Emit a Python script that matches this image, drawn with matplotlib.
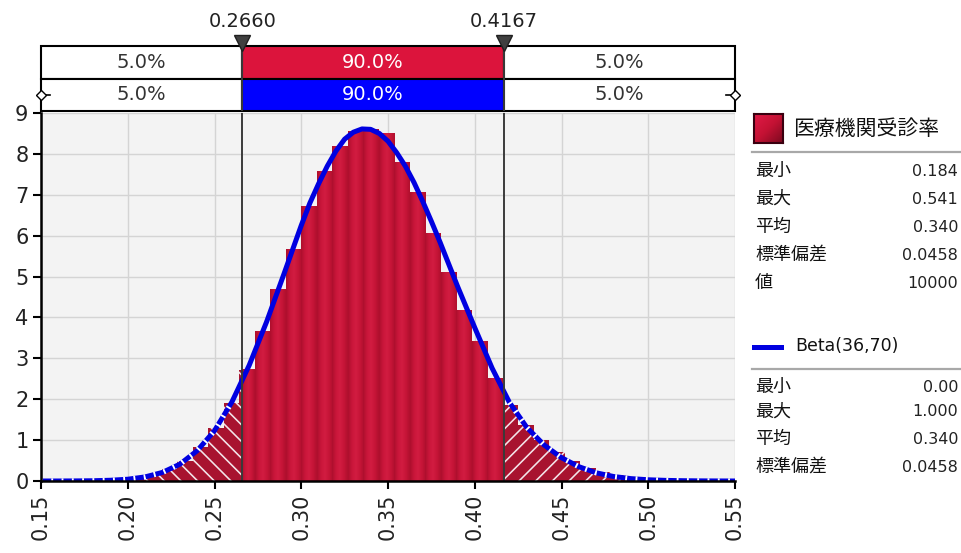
import numpy as np
import matplotlib
matplotlib.use("Agg")
import matplotlib.pyplot as plt
from matplotlib.patches import Rectangle
from matplotlib.lines import Line2D
from matplotlib.colors import LinearSegmentedColormap

plt.rcParams['font.family'] = ['DejaVu Sans', 'Noto Sans CJK JP']
plt.rcParams['hatch.linewidth'] = 1.15

# ---------------- data ----------------
hist_min, hist_max, n_bins = 0.184, 0.541, 40
hist_heights = [0.02, 0.04, 0.08, 0.15, 0.30, 0.50, 0.83, 1.30, 1.90, 2.72,
                3.65, 4.68, 5.66, 6.72, 7.57, 8.19, 8.55, 8.60, 8.50, 7.78,
                7.05, 6.06, 5.10, 4.18, 3.42, 2.50, 1.85, 1.38, 1.00, 0.72,
                0.50, 0.33, 0.22, 0.14, 0.09, 0.06, 0.03, 0.02, 0.01, 0.01]

curve_x = [0.15, 0.16, 0.17, 0.18, 0.19, 0.20, 0.21, 0.22, 0.23, 0.24, 0.25, 0.26,
           0.27, 0.28, 0.29, 0.30, 0.305, 0.31, 0.315, 0.32, 0.325, 0.33, 0.335,
           0.34, 0.345, 0.35, 0.355, 0.36, 0.365, 0.37, 0.375, 0.38, 0.39, 0.40,
           0.41, 0.42, 0.43, 0.44, 0.45, 0.46, 0.47, 0.48, 0.49, 0.50, 0.51, 0.52,
           0.53, 0.54, 0.55]
curve_y = [0.0, 0.0, 0.002, 0.006, 0.018, 0.043, 0.10, 0.21, 0.41, 0.74, 1.23, 1.93,
           2.83, 3.89, 5.06, 6.25, 6.80, 7.27, 7.70, 8.07, 8.36, 8.53, 8.61,
           8.60, 8.50, 8.31, 8.03, 7.70, 7.30, 6.84, 6.35, 5.84, 4.77, 3.75,
           2.76, 1.92, 1.31, 0.88, 0.57, 0.35, 0.20, 0.11, 0.058, 0.030, 0.015, 0.007,
           0.003, 0.001, 0.0]

left_cut, right_cut = 0.2660, 0.4167
pct_left, pct_mid, pct_right = "5.0%", "90.0%", "5.0%"

x_ticks = [0.15, 0.20, 0.25, 0.30, 0.35, 0.40, 0.45, 0.50, 0.55]
x_tick_labels = ["0.15", "0.20", "0.25", "0.30", "0.35", "0.40", "0.45", "0.50", "0.55"]
y_ticks = [0, 1, 2, 3, 4, 5, 6, 7, 8, 9]

series_name = "医療機関受診率"
fit_name = "Beta(36,70)"
stat_labels_1 = ["最小", "最大", "平均", "標準偏差", "値"]
stat_values_1 = ["0.184", "0.541", "0.340", "0.0458", "10000"]
stat_labels_2 = ["最小", "最大", "平均", "標準偏差"]
stat_values_2 = ["0.00", "1.000", "0.340", "0.0458"]

# ---------------- figure ----------------
W, H = 961, 553
fig = plt.figure(figsize=(W / 100, H / 100), dpi=100)
fig.patch.set_facecolor('white')

def fx(x):
    return x / W

def fy(y):
    return 1 - y / H

ax = fig.add_axes([fx(41), fy(481), 694 / W, 368 / H])
ax.set_facecolor('#f3f3f3')
ax.set_xlim(0.15, 0.55)
ax.set_ylim(0, 9)
ax.grid(True, color='#d4d4d4', lw=1.0)
ax.set_axisbelow(True)
for s in ['top', 'right']:
    ax.spines[s].set_visible(False)
for s in ['left', 'bottom']:
    ax.spines[s].set_linewidth(1.8)
    ax.spines[s].set_color('black')
    ax.spines[s].set_zorder(6)
ax.set_xticks(x_ticks)
ax.set_xticklabels(x_tick_labels, rotation=90, fontsize=15, color='#222222')
ax.set_yticks(y_ticks)
ax.set_yticklabels([str(v) for v in y_ticks], fontsize=15, color='#222222')
ax.tick_params(direction='out', length=6, width=1.5, pad=3)

bar_cmap = LinearSegmentedColormap.from_list(
    'bar', ['#ad0f2d', '#c9163a', '#d21c41', '#c71538', '#b0102e'])
grad = np.linspace(0, 1, 48).reshape(1, -1)

edges = np.linspace(hist_min, hist_max, n_bins + 1)
for k, h in enumerate(hist_heights):
    lo, hi = edges[k], edges[k + 1]
    if lo < left_cut:
        x1 = min(hi, left_cut)
        ax.add_patch(Rectangle((lo, 0), x1 - lo, h, facecolor='#a8132f',
                               edgecolor='#f4e6ea', linewidth=0, hatch='\\\\', zorder=2))
    a0, a1 = max(lo, left_cut), min(hi, right_cut)
    if a1 > a0:
        ax.imshow(grad, cmap=bar_cmap, extent=[a0, a1, 0, h], aspect='auto',
                  interpolation='bilinear', zorder=2)
    if hi > right_cut:
        x0 = max(lo, right_cut)
        ax.add_patch(Rectangle((x0, 0), hi - x0, h, facecolor='#a8132f',
                               edgecolor='#f4e6ea', linewidth=0, hatch='//', zorder=2))
ax.set_xlim(0.15, 0.55)
ax.set_ylim(0, 9)

cx = np.array(curve_x)
cy = np.array(curve_y)
ax.plot(cx, cy, color='#0000e0', lw=3.6, zorder=4, solid_capstyle='round')
mask_l = cx <= left_cut + 0.001
mask_r = cx >= right_cut - 0.004
ax.plot(cx[mask_l], cy[mask_l], color='white', lw=3.8, zorder=4.5,
        linestyle=(0, (0.35, 1.6)))
ax.plot(cx[mask_r], cy[mask_r], color='white', lw=3.8, zorder=4.5,
        linestyle=(0, (0.35, 1.6)))

for c in (left_cut, right_cut):
    ax.axvline(c, color='#3a3a3a', lw=1.4, zorder=5)

# ---------------- top percentage bars ----------------
axt = fig.add_axes([fx(41), fy(111), 694 / W, 65 / H])
axt.set_xlim(0.15, 0.55)
axt.set_ylim(0, 2)
axt.axis('off')
rows = [(1, '#dc143c'), (0, '#0000ff')]
for y0, midc in rows:
    axt.add_patch(Rectangle((0.15, y0), left_cut - 0.15, 1, facecolor='white',
                            edgecolor='black', lw=1.5, clip_on=False))
    axt.add_patch(Rectangle((left_cut, y0), right_cut - left_cut, 1, facecolor=midc,
                            edgecolor='black', lw=1.5, clip_on=False))
    axt.add_patch(Rectangle((right_cut, y0), 0.55 - right_cut, 1, facecolor='white',
                            edgecolor='black', lw=1.5, clip_on=False))
    axt.text((0.15 + left_cut) / 2, y0 + 0.5, pct_left, ha='center', va='center',
             fontsize=14, color='#333333')
    axt.text((left_cut + right_cut) / 2, y0 + 0.5, pct_mid, ha='center', va='center',
             fontsize=14, color='white')
    axt.text((right_cut + 0.55) / 2, y0 + 0.5, pct_right, ha='center', va='center',
             fontsize=14, color='#333333')

for c in (left_cut, right_cut):
    axt.axvline(c, color='#3a3a3a', lw=1.4, zorder=5)
    axt.plot([c], [2.08], marker='v', markersize=11, color='#404040',
             markeredgecolor='#202020', clip_on=False, zorder=6)
    axt.text(c, 2.75, f"{c:.4f}", ha='center', va='center', fontsize=14,
             color='#222222', clip_on=False)

axt.plot([0.15, 0.155], [0.5, 0.5], color='black', lw=1.2, clip_on=False, zorder=6)
axt.plot([0.15], [0.5], marker='D', markersize=5, markerfacecolor='white',
         markeredgecolor='black', clip_on=False, zorder=7)
axt.plot([0.545, 0.55], [0.5, 0.5], color='black', lw=1.2, clip_on=False, zorder=6)
axt.plot([0.55], [0.5], marker='D', markersize=5, markerfacecolor='white',
         markeredgecolor='black', clip_on=False, zorder=7)

# ---------------- legend / stats panel ----------------
axl = fig.add_axes([fx(754), fy(143), 29 / W, 29 / H])
sq = np.add.outer(np.linspace(0, 1, 20), np.linspace(0, 1, 20)) / 2
sq_cmap = LinearSegmentedColormap.from_list('sq', ['#e01a46', '#c41234', '#7e0a20'])
axl.imshow(sq, cmap=sq_cmap, aspect='auto', interpolation='bilinear')
axl.set_xticks([])
axl.set_yticks([])
for s in axl.spines.values():
    s.set_color('#3a0010')
    s.set_linewidth(1.5)

fig.text(fx(793), fy(129), series_name, fontsize=15, va='center', ha='left',
         color='#111111')
fig.add_artist(Line2D([fx(752), fx(960)], [fy(152), fy(152)], color='#a8a8a8', lw=1.6))
row_y1 = [171, 199, 227, 255, 283]
for lab, val, yy in zip(stat_labels_1, stat_values_1, row_y1):
    fig.text(fx(755), fy(yy), lab, fontsize=13, va='center', ha='left', color='#111111')
    fig.text(fx(958), fy(yy), val, fontsize=11.5, va='center', ha='right', color='#222222')

fig.add_artist(Line2D([fx(754), fx(781)], [fy(347), fy(347)], color='#0000e0', lw=3.6))
fig.text(fx(795), fy(346), fit_name, fontsize=12.5, va='center', ha='left', color='#111111')
fig.add_artist(Line2D([fx(752), fx(960)], [fy(369), fy(369)], color='#a8a8a8', lw=1.6))
row_y2 = [387, 412, 439, 467]
for lab, val, yy in zip(stat_labels_2, stat_values_2, row_y2):
    fig.text(fx(755), fy(yy), lab, fontsize=13, va='center', ha='left', color='#111111')
    fig.text(fx(958), fy(yy), val, fontsize=11.5, va='center', ha='right', color='#222222')

fig.savefig('out.png', dpi=100, facecolor='white')
